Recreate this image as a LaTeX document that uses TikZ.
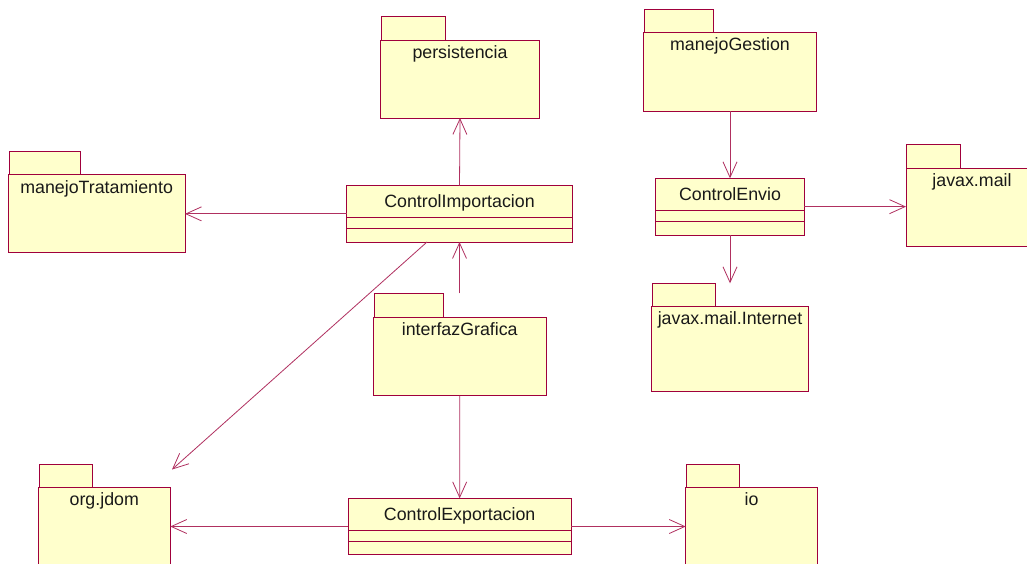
\documentclass[tikz,border=0pt]{standalone}
\usepackage{fontspec}
\setmainfont{Liberation Sans}
\usetikzlibrary{arrows.meta}
\definecolor{umlred}{RGB}{160,0,60}
\definecolor{umlline}{RGB}{176,48,96}
\definecolor{umlfill}{RGB}{255,255,204}
\tikzset{
  pkgpart/.style={draw=umlred, fill=umlfill, line width=1pt, inner sep=0pt, outer sep=0pt},
  pkglabel/.style={inner sep=0pt, outer sep=0pt, font=\fontsize{17.8}{20}\selectfont, text=black!90},
  classbox/.style={draw=umlred, fill=umlfill, line width=1pt, inner sep=0pt, outer sep=0pt},
  classline/.style={draw=umlred, line width=1pt},
  dep/.style={draw=umlline, line width=0.8pt, -{Straight Barb[length=15.5pt,width=14pt,line width=0.8pt]}}
}
\begin{document}
\begin{tikzpicture}[x=1pt,y=-1pt]
\fill[white] (0,0) rectangle (1027,563);
\useasboundingbox (0,0) rectangle (1027,563);

% ---------- packages ----------
% persistencia
\node[pkgpart, minimum width=64.3pt, minimum height=24pt, anchor=south west] (perstab) at (381,40) {};
\node[pkgpart, minimum width=158.6pt, minimum height=78pt] (pers) at (460,79) {};
\node[pkglabel, anchor=base] (perslbl) at ([yshift=-18pt]pers.north) {persistencia};

% manejoGestion
\node[pkgpart, minimum width=69.3pt, minimum height=23.4pt, anchor=south west] (mgtab) at (644,32.7) {};
\node[pkgpart, minimum width=172.3pt, minimum height=78.3pt] (mg) at (730,71.85) {};
\node[pkglabel, anchor=base] (mglbl) at ([yshift=-18pt]mg.north) {manejoGestion};

% manejoTratamiento
\node[pkgpart, minimum width=71.4pt, minimum height=23pt, anchor=south west] (mttab) at (9.3,174.7) {};
\node[pkgpart, minimum width=176.7pt, minimum height=78pt] (mt) at (96.65,213.7) {};
\node[pkglabel, anchor=base] (mtlbl) at ([yshift=-18.5pt]mt.north) {manejoTratamiento};

% javax.mail
\node[pkgpart, minimum width=53.7pt, minimum height=24pt, anchor=south west] (jmtab) at (906.3,168.3) {};
\node[pkgpart, minimum width=132pt, minimum height=77.7pt] (jm) at (972,207.15) {};
\node[pkglabel, anchor=base] (jmlbl) at ([yshift=-18pt]jm.north) {javax.mail};

% javax.mail.Internet
\node[pkgpart, minimum width=63.7pt, minimum height=23.4pt, anchor=south west] (jmitab) at (652,306.7) {};
\node[pkgpart, minimum width=156.6pt, minimum height=84.3pt] (jmi) at (730,348.85) {};
\node[pkglabel, anchor=base] (jmilbl) at ([yshift=-18pt]jmi.north) {javax.mail.Internet};

% interfazGrafica
\node[pkgpart, minimum width=69.3pt, minimum height=24.4pt, anchor=south west] (igtab) at (374,317.7) {};
\node[pkgpart, minimum width=173.5pt, minimum height=77.8pt] (ig) at (459.75,356.6) {};
\node[pkglabel, anchor=base] (iglbl) at ([yshift=-18pt]ig.north) {interfazGrafica};

% org.jdom
\node[pkgpart, minimum width=53.3pt, minimum height=23.4pt, anchor=south west] (jdtab) at (39,487.7) {};
\node[pkgpart, minimum width=132pt, minimum height=78pt] (jd) at (104.3,526.7) {};
\node[pkglabel, anchor=base] (jdlbl) at ([yshift=-18pt]jd.north) {org.jdom};

% io
\node[pkgpart, minimum width=53.7pt, minimum height=23.4pt, anchor=south west] (iotab) at (686,487.7) {};
\node[pkgpart, minimum width=131.6pt, minimum height=78pt] (io) at (751.5,526.7) {};
\node[pkglabel, anchor=base] (iolbl) at ([yshift=-18pt]io.north) {io};

% ---------- classes ----------
% ControlImportacion
\node[classbox, minimum width=225.6pt, minimum height=56.3pt] (ci) at (459.5,213.85) {};
\draw[classline] ([yshift=-31.6pt]ci.north west) -- ([yshift=-31.6pt]ci.north east);
\draw[classline] ([yshift=-42.3pt]ci.north west) -- ([yshift=-42.3pt]ci.north east);
\node[pkglabel, anchor=base] (cilbl) at ([yshift=-21.6pt]ci.north) {ControlImportacion};

% ControlEnvio
\node[classbox, minimum width=148.6pt, minimum height=56.7pt] (cenv) at (730,206.65) {};
\draw[classline] ([yshift=-32pt]cenv.north west) -- ([yshift=-32pt]cenv.north east);
\draw[classline] ([yshift=-42.7pt]cenv.north west) -- ([yshift=-42.7pt]cenv.north east);
\node[pkglabel, anchor=base] (cenvlbl) at ([yshift=-21.7pt]cenv.north) {ControlEnvio};

% ControlExportacion
\node[classbox, minimum width=222.7pt, minimum height=56.4pt] (ce) at (459.65,526.5) {};
\draw[classline] ([yshift=-32pt]ce.north west) -- ([yshift=-32pt]ce.north east);
\draw[classline] ([yshift=-43pt]ce.north west) -- ([yshift=-43pt]ce.north east);
\node[pkglabel, anchor=base] (celbl) at ([yshift=-21.7pt]ce.north) {ControlExportacion};

% ---------- dependencies ----------
\draw[dep] (ci.north) -- (pers.south);
\draw[dep] (ci.west) -- (ci.west -| mt.east);
\draw[dep] (ci.south |- igtab.north) -- (ci.south);
\coordinate (cjs) at ([xshift=-32.5pt]ci.south);
\coordinate (cje) at (172,469.5);
\draw[dep] (cjs) -- (cje);
\draw[dep] (ig.south) -- (ce.north);
\draw[dep] (ce.west) -- (ce.west -| jd.east);
\draw[dep] (ce.east) -- (ce.east -| io.west);
\draw[dep] (mg.south) -- (cenv.north);
\draw[dep] (cenv.east) -- (cenv.east -| jm.west);
\draw[dep] (cenv.south) -- (cenv.south |- jmitab.north);
\end{tikzpicture}
\end{document}
